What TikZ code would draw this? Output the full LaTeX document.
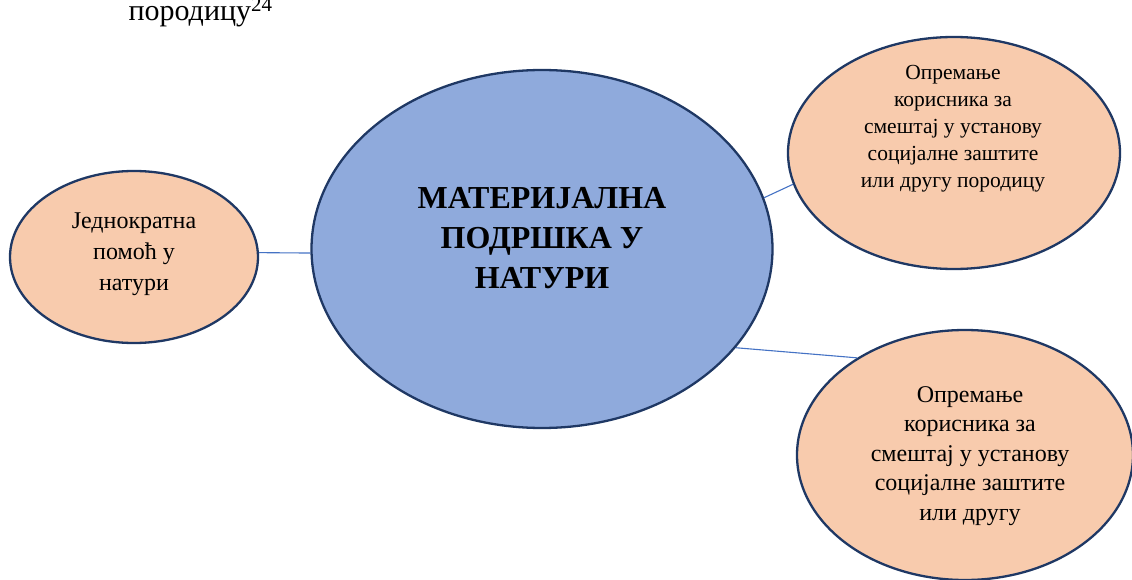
\documentclass[tikz,border=0pt]{standalone}
\usepackage{fontspec}
\setmainfont{Liberation Serif}
\usetikzlibrary{shapes.geometric}
\definecolor{hubblue}{HTML}{8FAADC}
\definecolor{leafpeach}{HTML}{F8CBAD}
\definecolor{rimnavy}{HTML}{1F3864}
\definecolor{linkblue}{HTML}{4472C4}

\begin{document}
\begin{tikzpicture}[x=1pt,y=-1pt,
    hub/.style={ellipse,draw=rimnavy,line width=2.3pt,fill=hubblue,inner sep=0pt},
    leaf/.style={ellipse,draw=rimnavy,line width=2.3pt,fill=leafpeach,inner sep=0pt},
    link/.style={draw=linkblue,line width=1.1pt}]
        \useasboundingbox (0,0) rectangle (1132,580);
        \node (TOP) at (125,21) [anchor=base west,font=\fontsize{30}{36}\selectfont] {породицу\textsuperscript{24}};
        \node (M) at (542,249) [hub,minimum width=461pt,minimum height=358pt] {};
        \node (L) at (134,257) [leaf,minimum width=248pt,minimum height=172pt] {};
        \node (T) at (954,153) [leaf,minimum width=332pt,minimum height=232pt] {};
        \node (B) at (965,455) [leaf,minimum width=336pt,minimum height=250pt] {};
        \node (MT) at (542,238) [align=center,font=\fontsize{32}{40}\selectfont\bfseries] {МАТЕРИЈАЛНА \\ ПОДРШКА У \\ НАТУРИ};
        \node (LT) at (134,254) [align=center,font=\fontsize{24}{31}\selectfont] {Једнократна \\ помоћ у \\ натури};
        \node (TT) at (953,129) [align=center,font=\fontsize{21.5}{27}\selectfont] {Опремање \\ корисника за \\ смештај у установу \\ социјалне заштите \\ или другу породицу};
        \node (BT) at (970,456) [align=center,font=\fontsize{24}{29.5}\selectfont] {Опремање \\ корисника за \\ смештај у установу \\ социјалне заштите \\ или другу};
        \draw [link] (L.2) -- (M.181);
        \draw [link] (M.13) -- (T.191);
        \draw [link] (M.333) -- (B.138);
      \end{tikzpicture}
\end{document}
